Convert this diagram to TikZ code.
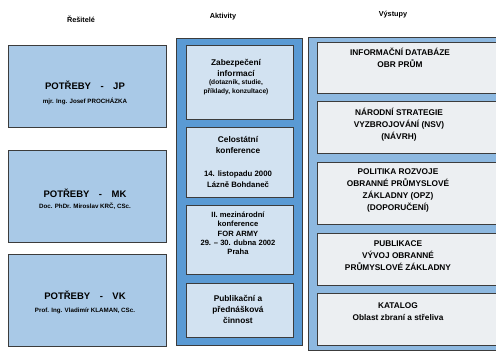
\documentclass[tikz,border=0pt]{standalone}
\usepackage{fontspec}
\setmainfont{Liberation Sans}
\definecolor{leftfill}{HTML}{A9C9E7}
\definecolor{midouter}{HTML}{5A9AD4}
\definecolor{midinner}{HTML}{D2E2F1}
\definecolor{rightouter}{HTML}{8DB8E0}
\definecolor{rightinner}{HTML}{ECEFF2}
\definecolor{edge}{HTML}{3C3C3C}
\begin{document}
\begin{tikzpicture}[x=1pt,y=-1pt,
  frame/.style={draw=edge, line width=1pt},
  hdr/.style={font=\bfseries\fontsize{7.3}{8}\selectfont, inner sep=0pt},
  ltitle/.style={font=\bfseries\fontsize{9.5}{10}\selectfont, inner sep=0pt},
  lsub/.style={font=\bfseries\fontsize{6.2}{7}\selectfont, inner sep=0pt},
  mtxt/.style={font=\bfseries\fontsize{8.3}{11}\selectfont, align=center, inner sep=0pt},
  msmall/.style={font=\bfseries\fontsize{6.6}{9}\selectfont, align=center, inner sep=0pt},
  rtxt/.style={font=\bfseries\fontsize{8.3}{11.8}\selectfont, align=center, inner sep=0pt}]
\useasboundingbox (0,0) rectangle (496,351);
\fill[white] (0,0) rectangle (496,351);
\clip (0,0) rectangle (496,351);

% headers
\node[hdr] (h1) at (81,19) {Řešitelé};
\node[hdr] (h2) at (223,17) {Aktivity};
\node[hdr] (h3) at (393,15) {Výstupy};

% left column
\path[frame, fill=leftfill] (8,45) rectangle (166,127);
\path[frame, fill=leftfill] (8,150) rectangle (166,242);
\path[frame, fill=leftfill] (8,254) rectangle (166,346);
\node[ltitle] (jp) at (85,85) {POTŘEBY\quad-\quad JP};
\node[lsub] (jps) at (85,101) {mjr. Ing. Josef PROCHÁZKA};
\node[ltitle] (mk) at (85,193) {POTŘEBY\quad-\quad MK};
\node[lsub] (mks) at (85,206) {Doc. PhDr. Miroslav KRČ, CSc.};
\node[ltitle] (vk) at (85,295) {POTŘEBY\quad-\quad VK};
\node[lsub] (vks) at (85,311) {Prof. Ing. Vladimír KLAMAN, CSc.};

% middle column
\path[frame, fill=midouter] (176,38) rectangle (302,345);
\path[frame, fill=midinner] (186,45) rectangle (293,119);
\path[frame, fill=midinner] (186,127) rectangle (293,197);
\path[frame, fill=midinner] (186,205) rectangle (293,274);
\path[frame, fill=midinner] (186,283) rectangle (293,337);
\node[mtxt] (a1) at (236,67.5) {Zabezpečení\\informací};
\node[msmall] (a1s) at (236,87.5) {(dotazník, studie,\\příklady, konzultace)};
\node[mtxt] (a2) at (238,144.5) {Celostátní\\konference};
\node[mtxt, font=\bfseries\fontsize{7.8}{11.5}\selectfont] (a2s) at (238,179) {14. listopadu 2000\\Lázně Bohdaneč};
\node[mtxt, font=\bfseries\fontsize{7.6}{9.3}\selectfont] (a3) at (238,233.5) {II. mezinárodní\\konference\\FOR ARMY\\29. – 30. dubna 2002\\Praha};
\node[mtxt] (a4) at (238,309.5) {Publikační a\\přednášková\\činnost};

% right column
\path[frame, fill=rightouter] (308,37) rectangle (510,350);
\path[frame, fill=rightinner] (317,42) rectangle (505,93);
\path[frame, fill=rightinner] (317,101) rectangle (505,153);
\path[frame, fill=rightinner] (317,162) rectangle (505,224);
\path[frame, fill=rightinner] (317,233) rectangle (505,285);
\path[frame, fill=rightinner] (317,293) rectangle (505,345);
\node[rtxt] (o1) at (400,57.5) {INFORMAČNÍ DATABÁZE\\OBR PRŮM};
\node[rtxt] (o2) at (399,124.5) {NÁRODNÍ STRATEGIE\\VYZBROJOVÁNÍ (NSV)\\(NÁVRH)};
\node[rtxt] (o3) at (398,190.5) {POLITIKA ROZVOJE\\OBRANNÉ PRŮMYSLOVÉ\\ZÁKLADNY (OPZ)\\(DOPORUČENÍ)};
\node[rtxt] (o4) at (398,255.5) {PUBLIKACE\\VÝVOJ OBRANNÉ\\PRŮMYSLOVÉ ZÁKLADNY};
\node[rtxt] (o5) at (398,311.5) {KATALOG\\Oblast zbraní a střeliva};
\end{tikzpicture}
\end{document}
